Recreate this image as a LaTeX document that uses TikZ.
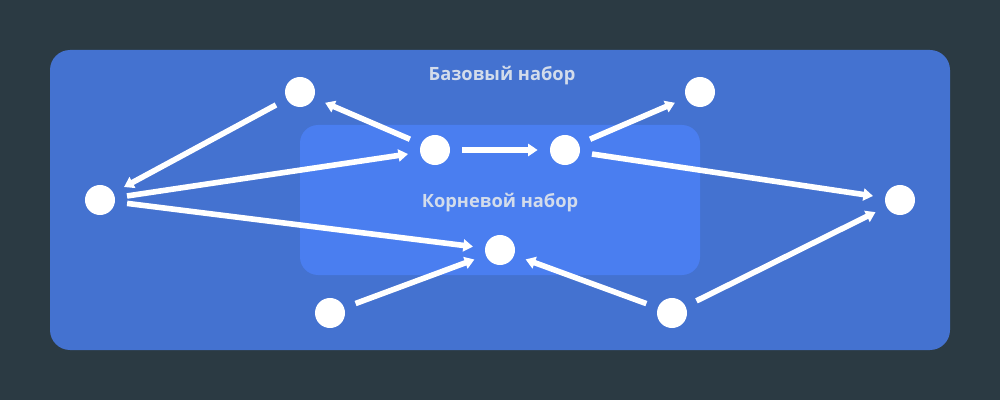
\documentclass[tikz,border=0pt]{standalone}
\usepackage{fontspec}
\setmainfont{Open Sans}
\usepackage{xcolor}
\usepackage{tikz}
\usetikzlibrary{arrows.meta}
\definecolor{bg}{HTML}{2B3A43}
\definecolor{outer}{HTML}{4472D0}
\definecolor{inner}{HTML}{4A7EF0}
\definecolor{label}{HTML}{D3DCEB}
\tikzset{
  lab/.style={text=label, font=\bfseries\fontsize{13}{15}\selectfont},
  vertex/.style={circle, fill=white, minimum size=0.75cm, inner sep=0pt},
  link/.style={draw=white, line width=0.14cm, -{Triangle[length=0.24cm, width=0.3cm]}, shorten <=0.3cm, shorten >=0.3cm}
}

\begin{document}
\begin{tikzpicture}[x=0.025cm, y=-0.025cm]
% frame
\fill[bg] (0,0) rectangle (1000,400);
\useasboundingbox (0,0) rectangle (1000,400);
\fill[outer, rounded corners=0.5cm] (50,50) rectangle (950,350);
\fill[inner, rounded corners=0.45cm] (300,125) rectangle (700,275);
\node[lab] (base) at (502,76) {Базовый набор};
\node[lab] (root) at (500,203) {Корневой набор};

% vertices
\node[vertex] (A) at (300,92) {};
\node[vertex] (B) at (435,150) {};
\node[vertex] (C) at (565,150) {};
\node[vertex] (D) at (700,92) {};
\node[vertex] (E) at (100,200) {};
\node[vertex] (F) at (900,200) {};
\node[vertex] (G) at (500,250) {};
\node[vertex] (H) at (330,313) {};
\node[vertex] (I) at (672,313) {};

% links
\draw[link] (A) -- (E);
\draw[link] (B) -- (A);
\draw[link] (E) -- (B);
\draw[link] (B) -- (C);
\draw[link] (C) -- (D);
\draw[link] (C) -- (F);
\draw[link] (E) -- (G);
\draw[link] (H) -- (G);
\draw[link] (I) -- (G);
\draw[link] (I) -- (F);
\end{tikzpicture}
\end{document}
